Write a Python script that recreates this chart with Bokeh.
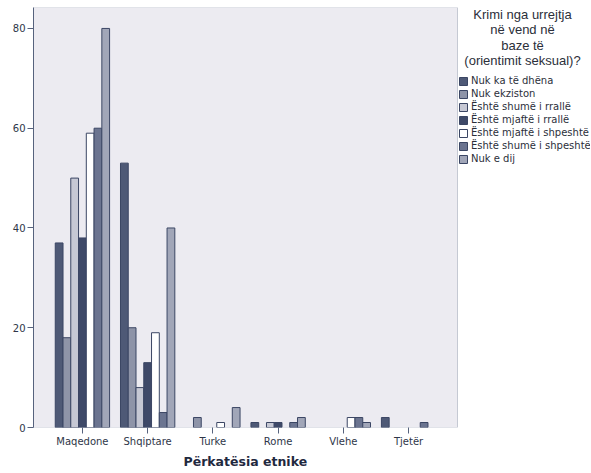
import math
from bokeh.plotting import figure
from bokeh.models import (ColumnDataSource, Range1d, FixedTicker, Legend, LegendItem, Label,
                          BoxAnnotation, Title)
from bokeh.transform import dodge
from bokeh.embed import file_html
from bokeh.resources import INLINE

categories = ["Maqedone", "Shqiptare", "Turke", "Rome", "Vlehe", "Tjetër"]
series_names = ["Nuk ka të dhëna", "Nuk ekziston", "Është shumë i rrallë",
                "Është mjaftë i rrallë", "Është mjaftë i shpeshtë",
                "Është shumë i shpeshtë", "Nuk e dij"]
nuk_ka_te_dhena = [37, 53, 0, 1, 0, 2]
nuk_ekziston = [18, 20, 2, 0, 0, 0]
shume_i_ralle = [50, 8, 0, 1, 0, 0]
mjafte_i_ralle = [38, 13, 0, 1, 0, 0]
mjafte_i_shpeshte = [59, 19, 1, 0, 2, 0]
shume_i_shpeshte = [60, 3, 0, 1, 2, 1]
nuk_e_dij = [80, 40, 4, 2, 1, 0]
series_values = [nuk_ka_te_dhena, nuk_ekziston, shume_i_ralle, mjafte_i_ralle,
                 mjafte_i_shpeshte, shume_i_shpeshte, nuk_e_dij]
colors = ["#4e5976", "#8e94a8", "#c6c8d4", "#3e4968", "#ffffff", "#6b7490", "#a1a6b8"]
y_ticks = [0, 20, 40, 60, 80]
legend_title = ["Krimi nga urrejtja", "në vend në", "baze të", "(orientimit seksual)?"]
x_title = "Përkatësia etnike"

outline = "#3b4664"
axis_col = "#56627d"
bg = "#ecebf1"

n = len(categories)
x_lo, x_hi = -0.75, n - 0.25          # visible plot box in data units
px_per_unit = 424 / (x_hi - x_lo)
frame_w = 557
x_end = x_lo + frame_w / px_per_unit   # extra room on the right for the legend

p = figure(frame_width=frame_w, frame_height=420, output_backend="svg", toolbar_location=None,
           x_range=Range1d(x_lo, x_end), y_range=Range1d(0, 84.2),
           min_border_left=33, min_border_right=0, min_border_top=7, min_border_bottom=40)
p.background_fill_color = "#ffffff"
p.border_fill_color = "#ffffff"
p.outline_line_color = None
p.xgrid.visible = False
p.ygrid.visible = False

box = BoxAnnotation(left=x_lo, right=x_hi, bottom=0, top=84.2, fill_color=bg, fill_alpha=1,
                    line_color=axis_col, line_width=1, level="underlay")
p.add_layout(box)

bw = 0.119
renderers = []
for i, (name, vals, col) in enumerate(zip(series_names, series_values, colors)):
    src = ColumnDataSource(dict(x=list(range(n)),
                                top=[v if v > 0 else math.nan for v in vals]))
    r = p.vbar(x=dodge("x", (i - 3) * bw, range=p.x_range), top="top", bottom=0,
               width=bw, source=src, fill_color=col, line_color=outline, line_width=1)
    renderers.append((name, r))

# axes
p.xaxis.ticker = FixedTicker(ticks=list(range(n)))
p.xaxis.major_label_overrides = {i: c for i, c in enumerate(categories)}
p.yaxis.ticker = FixedTicker(ticks=y_ticks)
for ax in (p.xaxis[0], p.yaxis[0]):
    ax.axis_line_color = axis_col
    ax.major_tick_line_color = axis_col
    ax.minor_tick_line_color = None
    ax.major_tick_out = 6
    ax.major_tick_in = 0
    ax.major_label_text_font = "DejaVu Sans"
    ax.major_label_text_font_size = "10px"
    ax.major_label_text_color = "#2e3648"
p.xaxis.axis_line_color = None
p.yaxis.major_label_standoff = 2
p.xaxis.major_label_standoff = 2

p.add_layout(Title(text=x_title, align="left", offset=150, standoff=4,
                   text_font="DejaVu Sans", text_font_size="12.5px",
                   text_font_style="bold", text_color="#1f2940"), "below")

legend = Legend(items=[LegendItem(label=nm, renderers=[r]) for nm, r in renderers],
                location=(425, 263), orientation="vertical",
                glyph_width=10, glyph_height=10, label_height=10, spacing=2,
                label_standoff=3, padding=0, margin=0,
                label_text_font="DejaVu Sans", label_text_font_size="10px",
                label_text_color="#2b2f3a", border_line_alpha=0,
                background_fill_alpha=0)
p.add_layout(legend, "center")

for k, line in enumerate(legend_title):
    p.add_layout(Label(x=489, y=413 - k * 15.3, x_units="screen", y_units="screen",
                       text=line, text_align="center", text_baseline="middle",
                       text_font="Liberation Sans", text_font_size="13px",
                       text_color="#2b2f3a"))

open("out.html", "w").write(file_html(p, INLINE))
